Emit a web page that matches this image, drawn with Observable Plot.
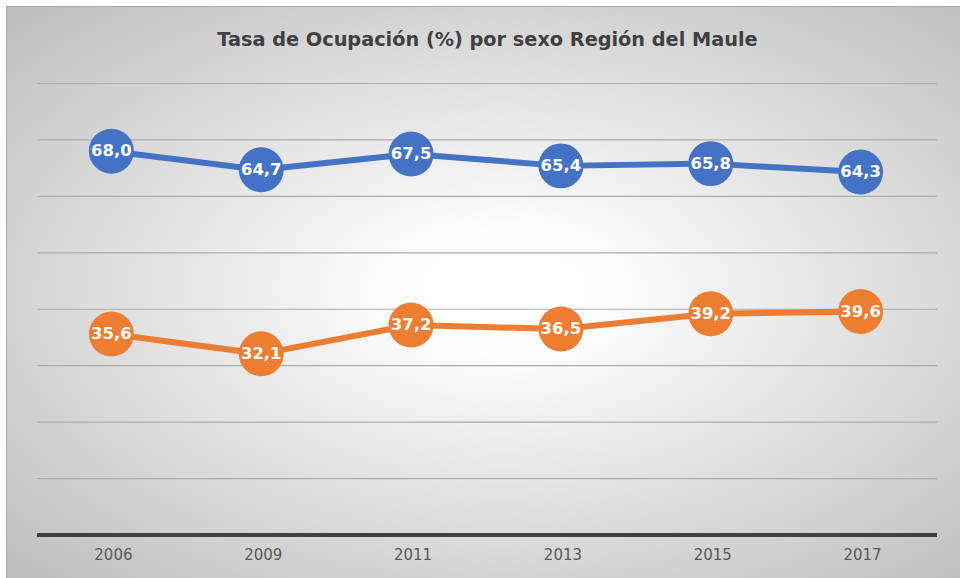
<!DOCTYPE html>
<html>
<head>
<meta charset="utf-8">
<script src="https://cdn.jsdelivr.net/npm/d3@7"></script>
<script src="https://cdn.jsdelivr.net/npm/@observablehq/plot@0.6"></script>
<style>
  html, body { margin: 0; padding: 0; background: #ffffff; }
  #frame {
    position: absolute; left: 6px; top: 6px; width: 954px; height: 572px;
    box-sizing: border-box;
    border-top: 1px solid #a8a8a8; border-left: 1px solid #a8a8a8;
    background: radial-gradient(ellipse farthest-corner at 52% 50%, #ffffff 0%, #fdfdfd 15%, #bdbdbd 100%);
    overflow: hidden;
  }
  #title {
    height: 53px; box-sizing: border-box; padding-top: 23px; padding-left: 8px;
    text-align: center; font-family: "DejaVu Sans", Verdana, sans-serif;
    font-weight: bold; font-size: 19.3px; line-height: 20px; color: #404040;
  }
  #chart svg { display: block; background: transparent; }
</style>
</head>
<body>
<div id="frame">
  <div id="title">Tasa de Ocupación (%) por sexo Región del Maule</div>
  <div id="chart"></div>
</div>
<script>
const years = ["2006", "2009", "2011", "2013", "2015", "2017"];
const hombres = [68.0, 64.7, 67.5, 65.4, 65.8, 64.3];
const mujeres = [35.6, 32.1, 37.2, 36.5, 39.2, 39.6];
const gridValues = [10, 20, 30, 40, 50, 60, 70, 80];

const series = [
  { name: "Hombres", values: hombres, color: "#4472C4" },
  { name: "Mujeres", values: mujeres, color: "#ED7D31" }
];
const data = series.flatMap(s => years.map((y, i) => ({ year: y, value: s.values[i], serie: s.name, color: s.color })));
const fmt = v => v.toFixed(1).replace(".", ",");

const chart = Plot.plot({
  width: 954,
  height: 518,
  marginLeft: 30,
  marginRight: 23,
  marginTop: 23,
  marginBottom: 43,
  style: { background: "transparent", overflow: "visible" },
  x: { type: "point", domain: years, padding: 0.5, label: null },
  y: { domain: [0, 80], label: null, axis: null },
  marks: [
    Plot.ruleY(gridValues, { stroke: "#ababab", strokeWidth: 1.2 }),
    Plot.ruleY([0], { stroke: "#404040", strokeWidth: 4 }),
    Plot.axisX({ tickSize: 0, tickPadding: 14, fontSize: 15, fill: "#595959", fontFamily: "DejaVu Sans, Verdana, sans-serif" }),
    Plot.line(data, { x: "year", y: "value", z: "serie", stroke: "color", strokeWidth: 6, strokeLinejoin: "round", dx: -2 }),
    Plot.dot(data, { x: "year", y: "value", r: 22.5, fill: "color", stroke: "none", dx: -2 }),
    Plot.text(data, { x: "year", y: "value", text: d => fmt(d.value), fill: "white", fontSize: 16.5, fontWeight: "bold", fontFamily: "DejaVu Sans, Verdana, sans-serif", dx: -2 })
  ]
});
document.getElementById("chart").appendChild(chart);
</script>
</body>
</html>
